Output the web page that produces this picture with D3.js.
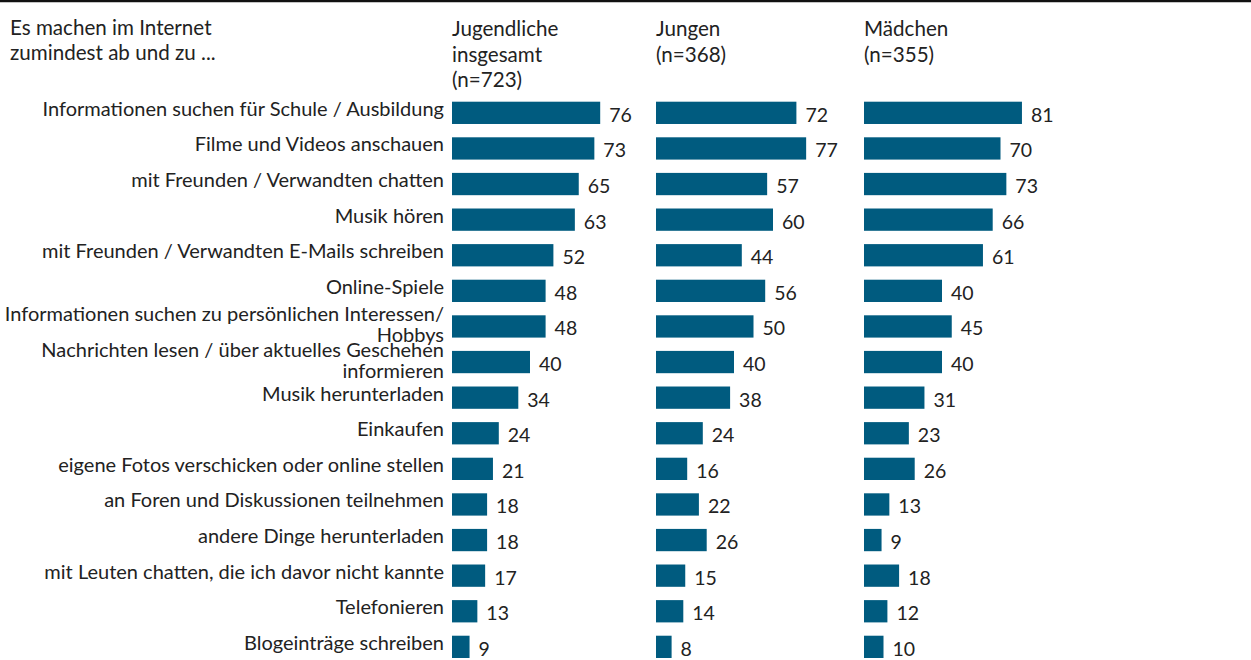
<!DOCTYPE html>
<html>
<head>
<meta charset="utf-8">
<title>Internet</title>
<script src="https://d3js.org/d3.v7.min.js"></script>
<style>
    body {
        margin: 0;
        background: #fff;
        font-family: 'Lato', sans-serif;
    }
    .label { font-size: 20px; fill: #222; }
    .head { font-size: 20.6px; fill: #222; }
    .value { font-size: 19.5px; fill: #222; }
</style>
</head>
<body>
<svg id="chart" width="1251" height="660"></svg>
<script>
    // data
    const categories = [
        "Informationen suchen für Schule / Ausbildung",
        "Filme und Videos anschauen",
        "mit Freunden / Verwandten chatten",
        "Musik hören",
        "mit Freunden / Verwandten E-Mails schreiben",
        "Online-Spiele",
        "Informationen suchen zu persönlichen Interessen/\nHobbys",
        "Nachrichten lesen / über aktuelles Geschehen\ninformieren",
        "Musik herunterladen",
        "Einkaufen",
        "eigene Fotos verschicken oder online stellen",
        "an Foren und Diskussionen teilnehmen",
        "andere Dinge herunterladen",
        "mit Leuten chatten, die ich davor nicht kannte",
        "Telefonieren",
        "Blogeinträge schreiben"
    ];
    const total = [76, 73, 65, 63, 52, 48, 48, 40, 34, 24, 21, 18, 18, 17, 13, 9];
    const boys  = [72, 77, 57, 60, 44, 56, 50, 40, 38, 24, 16, 22, 26, 15, 14, 8];
    const girls = [81, 70, 73, 66, 61, 40, 45, 40, 31, 23, 26, 13, 9, 18, 12, 10];
    const leftTitle = ["Es machen im Internet", "zumindest ab und zu ..."];
    const groupTitles = [
        ["Jugendliche", "insgesamt", "(n=723)"],
        ["Jungen", "(n=368)"],
        ["Mädchen", "(n=355)"]
    ];

    const svg = d3.select("#chart");
    const width = +svg.attr("width");
    const barColor = "#005b7f";

    // top rule
    svg.append("line")
        .attr("x1", 0).attr("x2", width)
        .attr("y1", 1).attr("y2", 1)
        .attr("stroke", "#111").attr("stroke-width", 2.5);

    const y = d3.scaleBand()
        .domain(d3.range(categories.length))
        .range([101.7, 658])
        .paddingInner(0.374)
        .paddingOuter(0);

    const x = d3.scaleLinear().domain([0, 100]).range([0, 195]);

    const colX = [452, 656, 864];
    const series = [total, boys, girls];

    // headers
    const lt = svg.append("text").attr("class", "head").attr("x", 10).attr("y", 35);
    leftTitle.forEach((t, i) => {
        lt.append("tspan").attr("x", 10).attr("y", 35 + i * 25).text(t);
    });
    groupTitles.forEach((lines, k) => {
        const t = svg.append("text").attr("class", "head");
        lines.forEach((s, i) => {
            t.append("tspan").attr("x", colX[k]).attr("y", 36 + i * 25.5).text(s);
        });
    });

    // category labels
    categories.forEach((c, i) => {
        const cy = y(i) + y.bandwidth() / 2;
        const lines = c.split("\n");
        const t = svg.append("text").attr("class", "label").attr("text-anchor", "end");
        lines.forEach((s, j) => {
            const base = lines.length === 1 ? cy + 3 : cy - 5 + j * 20.5;
            t.append("tspan").attr("x", 444).attr("y", base).text(s);
        });
    });

    // bars
    series.forEach((vals, k) => {
        const g = svg.append("g").attr("transform", "translate(" + colX[k] + ",0)");
        g.selectAll("rect")
            .data(vals)
            .enter()
            .append("rect")
            .attr("x", 0)
            .attr("y", (d, i) => y(i))
            .attr("width", d => x(d))
            .attr("height", y.bandwidth())
            .attr("fill", barColor);
        g.selectAll("text")
            .data(vals)
            .enter()
            .append("text")
            .attr("class", "value")
            .attr("x", d => x(d) + 9)
            .attr("y", (d, i) => y(i) + y.bandwidth() / 2 + 9)
            .text(d => d);
    });
</script>
</body>
</html>
